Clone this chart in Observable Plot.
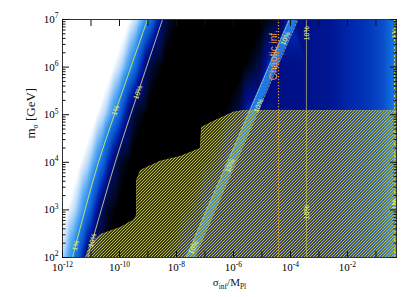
<!DOCTYPE html>
<html><head><meta charset="utf-8">
<script src="https://cdn.jsdelivr.net/npm/d3@7"></script>
<script src="https://cdn.jsdelivr.net/npm/@observablehq/plot@0.6"></script>
<style>body{margin:0;background:#fff;}</style>
</head><body><div id="chart"></div>
<script>
// rows of log10(m_sigma / GeV) at which the colour field was read
const logM = [2, 3, 4, 5, 6, 7];
// left gradient: log10(sigma/M_Pl) of colour levels along each row
const edgeWhite = [-12.28, -11.84, -11.38, -10.81, -10.23, -9.65];
const edgePale  = [-12.00, -11.56, -11.09, -10.53, -9.95, -9.37];
const edgeLight = [-11.82, -11.38, -10.92, -10.35, -9.78, -9.19];
const contour1  = [-11.65, -11.21, -10.74, -10.18, -9.60, -9.02];
const edgeMid1  = [-11.47, -11.03, -10.57, -10.00, -9.42, -8.84];
const edgeMid2  = [-11.30, -10.86, -10.39, -9.83, -9.25, -8.67];
const contour10 = [-11.12, -10.64, -10.15, -9.61, -9.05, -8.49];
const edgeDark  = [-10.88, -10.44, -9.97, -9.41, -8.83, -8.25];
const edgeBlack = [-10.53, -10.08, -9.62, -9.06, -8.48, -7.89];
// glow and band near the diagonal 10% band
const glowStart = [-8.56, -7.84, -7.11, -6.39, -5.67, -4.94];
const glowMid   = [-8.00, -7.28, -6.55, -5.83, -5.11, -4.38];
const bandLeft  = [-7.66, -6.94, -6.21, -5.49, -4.77, -4.04];
const bandRight = [-7.36, -6.64, -5.91, -5.19, -4.47, -3.74];
const rowLevels = [1.0, 0.9, 0.8, 0.7, 0.58, 0.42, 0.22, 0.09, 0, 0, 0.15, 0.44, 0.3];
// right part: vertical colour stripes
const rightCols   = [-3.44, -2.60, -2.07, -1.37, -0.77, -0.49, -0.28, 0];
const rightLevels = [0.32, 0.35, 0.40, 0.45, 0.50, 0.60, 0.68, 0.75];
const farLeft = -12.6;
// hatched (excluded) region boundary
const hatchLx = [-11.19, -11.02, -10.67, -9.96, -9.51, -9.40, -9.40, -9.26, -8.56, -7.86, -7.16, -7.12, -6.63, -6.00, -5.65, -0.28];
const hatchLy = [2.00, 2.29, 2.48, 2.63, 2.78, 2.88, 3.62, 3.83, 4.02, 4.12, 4.29, 4.73, 4.88, 5.05, 5.09, 5.09];
// vertical lines
const chaoticLx = -4.42;
const vert10Lx = -3.44;
const vert1Lx = -0.35;
// contour labels
const labelText  = ["1%", "1%", "10%", "10%", "10%", "10%", "10%", "10%", "10%", "10%", "1%", "1%"];
const labelLx    = [-10.14, -11.54, -9.35, -10.95, -4.18, -5.12, -6.12, -7.40, -3.44, -3.44, -0.35, -0.35];
const labelLy    = [5.09, 2.25, 5.47, 2.36, 6.60, 5.19, 3.93, 2.21, 6.71, 2.95, 6.71, 3.12];
const labelAngle = [-71, -75, -71, -73, -66, -66, -66, -66, -90, -90, -90, -90];
// axes
const xMajor = [-12, -11, -10, -9, -8, -7, -6, -5, -4, -3, -2, -1];
const xLabeled = [-12, -10, -8, -6, -4, -2];
const yMajor = [2, 3, 4, 5, 6, 7];

const colorDomain = [0, 0.1, 0.2, 0.3, 0.35, 0.4, 0.45, 0.5, 0.6, 0.7, 0.8, 0.9, 1];
const colorRange = ["#000000", "#000a30", "#000c60", "#000e84", "#001692", "#0024a8", "#0034b8", "#0a4cc8", "#1068dc", "#1e88ee", "#5aaaf4", "#b4d8fa", "#ffffff"];

const P = v => Math.pow(10, v);
const rowArrays = [edgeWhite, edgePale, edgeLight, contour1, edgeMid1, edgeMid2, contour10, edgeDark, edgeBlack, glowStart, glowMid, bandLeft, bandRight];
const samples = [];
logM.forEach((ly, i) => {
  samples.push({x: P(farLeft), y: P(ly), v: 1});
  rowArrays.forEach((arr, k) => samples.push({x: P(arr[i]), y: P(ly), v: rowLevels[k]}));
  rightCols.forEach((lx, j) => samples.push({x: P(lx), y: P(ly), v: rightLevels[j]}));
});
const rows = logM.map((ly, i) => ({y: P(ly), c1: P(contour1[i]), c10: P(contour10[i]), bl: P(bandLeft[i]), br: P(bandRight[i])}));
const hatch = hatchLx.map((lx, i) => ({x: P(lx), y: P(hatchLy[i])}));
const labels = labelText.map((t, i) => ({t, x: P(labelLx[i]), y: P(labelLy[i]), a: labelAngle[i]}));
const yMinor = [];
for (let k = 2; k < 7; k++) for (let m = 2; m <= 9; m++) yMinor.push(m * Math.pow(10, k));

const serif = "'Liberation Serif', 'DejaVu Serif', serif";
const fmt = d => `10^{${Math.round(Math.log10(d))}}`;

const plot = Plot.plot({
  width: 415, height: 297,
  marginLeft: 62, marginRight: 19, marginTop: 19, marginBottom: 40,
  style: {background: "white", fontFamily: serif},
  x: {type: "log", domain: [P(-12), P(-0.28)]},
  y: {type: "log", domain: [P(2), P(7)]},
  color: {type: "linear", domain: colorDomain, range: colorRange, clamp: true},
  marks: [
    Plot.raster(samples, {x: "x", y: "y", fill: "v", interpolate: "barycentric"}),
    Plot.areaX(rows, {y: "y", x1: "bl", x2: "br", fill: "#1c78e8", clip: true}),
    Plot.line(rows, {x: "bl", y: "y", stroke: "#d8d890", strokeWidth: 0.7, strokeDasharray: "2,1.5", clip: true}),
    Plot.line(rows, {x: "br", y: "y", stroke: "#d8d890", strokeWidth: 0.7, strokeDasharray: "2,1.5", clip: true}),
    Plot.line(rows, {x: "c1", y: "y", stroke: "#e2e25a", strokeWidth: 0.9, curve: "catmull-rom", clip: true}),
    Plot.line(rows, {x: "c10", y: "y", stroke: "#cfcf86", strokeWidth: 0.9, curve: "catmull-rom", clip: true}),
    Plot.ruleX([P(vert10Lx)], {stroke: "#9c9670", strokeWidth: 0.9}),
    Plot.ruleX([P(vert1Lx)], {stroke: "#d8d840", strokeWidth: 0.9, strokeDasharray: "2,2"}),
    Plot.areaY(hatch, {x: "x", y1: P(2), y2: "y", fill: "url(#hatch)", clip: true}),
    Plot.line(hatch, {x: "x", y: "y", stroke: "#a8a070", strokeWidth: 0.6, strokeOpacity: 0.5, clip: true}),
    Plot.ruleX([P(chaoticLx)], {stroke: "#e8902c", strokeWidth: 1.3, strokeDasharray: "1.2,1.8"}),
    Plot.text(["Chaotic inf."], {x: P(chaoticLx), y: P(6.25), dx: -5, rotate: -90, fill: "#f4a040", fontSize: 10, fontFamily: "'Liberation Sans', sans-serif"}),
    Plot.text(labels, {x: "x", y: "y", text: "t", rotate: "a", fill: "#f2f27a", fontSize: 7, fontFamily: "'Liberation Sans', sans-serif"}),
    Plot.frame({stroke: "#333", strokeWidth: 1}),
    // ticks (inward) and labels
    Plot.axisX({anchor: "bottom", ticks: xMajor.map(P), tickSize: -6, tickFormat: () => "", stroke: "#111", label: null}),
    Plot.axisX({anchor: "top", ticks: xMajor.map(P), tickSize: -6, tickFormat: () => "", stroke: "#111", label: null}),
    Plot.axisX({anchor: "bottom", ticks: xLabeled.map(P), tickSize: 0, tickPadding: 6, tickFormat: fmt, fontSize: 11, label: null}),
    Plot.axisY({anchor: "left", ticks: yMajor.map(P), tickSize: -7, tickFormat: () => "", stroke: "#111", label: null}),
    Plot.axisY({anchor: "right", ticks: yMajor.map(P), tickSize: -7, tickFormat: () => "", stroke: "#111", label: null}),
    Plot.axisY({anchor: "left", ticks: yMinor, tickSize: -3.5, tickFormat: () => "", stroke: "#111", label: null}),
    Plot.axisY({anchor: "right", ticks: yMinor, tickSize: -3.5, tickFormat: () => "", stroke: "#111", label: null}),
    Plot.axisY({anchor: "left", ticks: yMajor.map(P), tickSize: 0, tickPadding: 4, tickFormat: fmt, fontSize: 11, label: null}),
    Plot.text(["σ_{inf}/M_{Pl}"], {frameAnchor: "bottom", dy: 28, fontSize: 11, fill: "#111"}),
    Plot.text(["m_{σ} [GeV]"], {frameAnchor: "left", dx: -32, rotate: -90, fontSize: 13, fill: "#111"})
  ]
});

// hatch pattern
const ns = "http://www.w3.org/2000/svg";
const svgSel = d3.select(plot);
svgSel.insert("defs", ":first-child").html(
  '<pattern id="hatch" patternUnits="userSpaceOnUse" width="3" height="3">' +
  '<path d="M-1,1 l2,-2 M0,3 l3,-3 M2,4 l2,-2" stroke="#c4c436" stroke-width="1.1"/></pattern>');

// rich text: ^{} superscript, _{} subscript
svgSel.selectAll("text").each(function() {
  const el = this;
  const s = el.textContent;
  if (!/[\^_]\{/.test(s)) return;
  const fs = parseFloat(getComputedStyle(el).fontSize) || 11;
  const re = /([\^_])\{([^}]*)\}/g;
  const parts = []; let last = 0, m;
  while ((m = re.exec(s))) {
    if (m.index > last) parts.push({t: s.slice(last, m.index), k: ""});
    parts.push({t: m[2], k: m[1]});
    last = re.lastIndex;
  }
  if (last < s.length) parts.push({t: s.slice(last), k: ""});
  el.textContent = "";
  let cur = 0;
  for (const p of parts) {
    const target = p.k === "^" ? -0.42 * fs : p.k === "_" ? 0.28 * fs : 0;
    const ts = document.createElementNS(ns, "tspan");
    ts.setAttribute("dy", (target - cur).toFixed(2));
    if (p.k) ts.setAttribute("font-size", (0.68 * fs).toFixed(1));
    ts.textContent = p.t;
    el.appendChild(ts);
    cur = target;
  }
});

document.getElementById("chart").appendChild(plot);
</script>
</body></html>
